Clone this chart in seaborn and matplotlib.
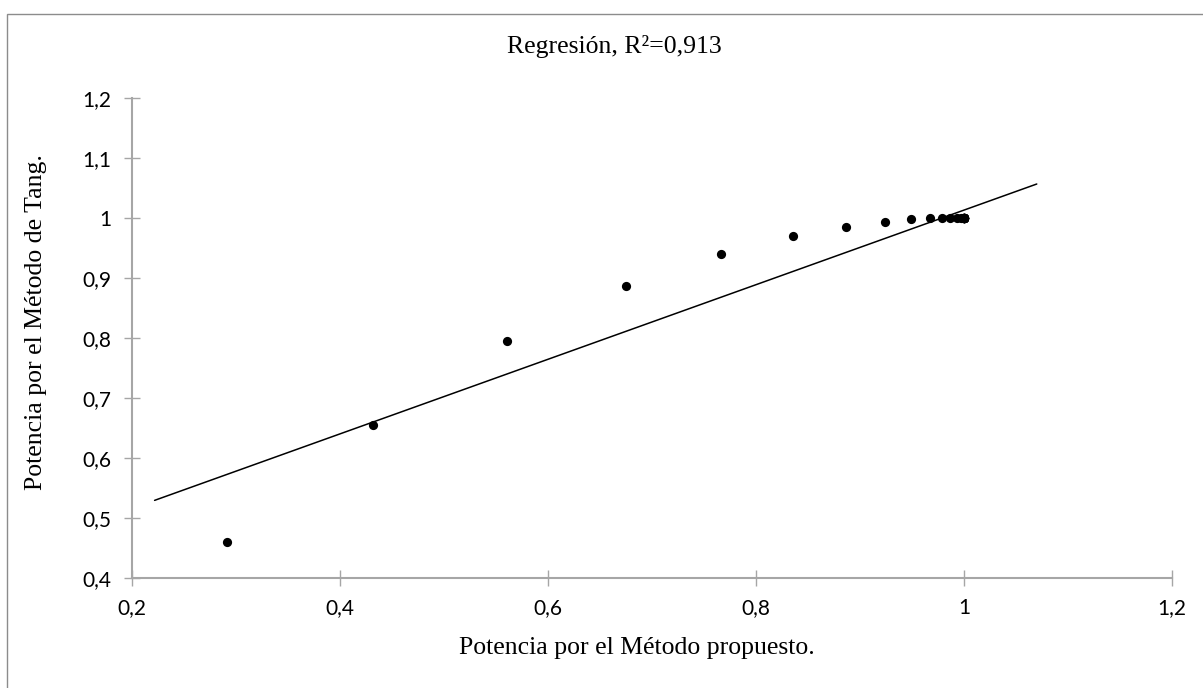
import numpy as np
import pandas as pd
import matplotlib
matplotlib.use("Agg")
import matplotlib.pyplot as plt
import seaborn as sns
from matplotlib.patches import Rectangle
from matplotlib.ticker import FuncFormatter

# data (many points overlap at (1, 1) in the saturated region)
x_propuesto = [0.292, 0.432, 0.561, 0.675, 0.766, 0.836, 0.887, 0.924, 0.949,
               0.967, 0.979, 0.987, 0.993, 0.997, 0.999, 1.000,
               1.000, 1.000, 1.000, 1.000, 1.000, 1.000, 1.000, 1.000,
               1.000, 1.000, 1.000, 1.000, 1.000, 1.000, 1.000]
y_tang = [0.459, 0.654, 0.795, 0.886, 0.940, 0.970, 0.985, 0.993, 0.997,
          0.999, 1.000, 1.000, 1.000, 1.000, 1.000, 1.000,
          1.000, 1.000, 1.000, 1.000, 1.000, 1.000, 1.000, 1.000,
          1.000, 1.000, 1.000, 1.000, 1.000, 1.000, 1.000]
title_text = "Regresión, R²=0,913"
xlabel_text = "Potencia por el Método propuesto."
ylabel_text = "Potencia por el Método de Tang."
xticks = [0.2, 0.4, 0.6, 0.8, 1.0, 1.2]
yticks = [0.4, 0.5, 0.6, 0.7, 0.8, 0.9, 1.0, 1.1, 1.2]
forecast = 0.07  # trendline extension backward / forward

df = pd.DataFrame({"x": x_propuesto, "y": y_tang})

sns.set_theme(style="white")
plt.rcParams["font.family"] = ["Lato", "DejaVu Sans"]

W, H = 1203, 688
fig = plt.figure(figsize=(W / 100, H / 100), dpi=100)
ax = fig.add_axes([131.7 / W, 1 - 577.7 / H, (1172 - 131.7) / W, (577.7 - 97.7) / H])

# outer chart border (top and left visible)
fig.patches.append(Rectangle((7 / W, -0.1), 1.2, 1 - 14 / H + 0.1, transform=fig.transFigure,
                             fill=False, edgecolor="#8c8c8c", linewidth=1.0, zorder=0))

# trendline (least squares), extended by the forecast on both sides
slope, intercept = np.polyfit(df["x"], df["y"], 1)
xl = np.array([df["x"].min() - forecast, df["x"].max() + forecast])
sns.lineplot(x=xl, y=slope * xl + intercept, ax=ax, color="black", linewidth=1.1, zorder=2)

sns.scatterplot(data=df, x="x", y="y", ax=ax, color="black", s=44, edgecolor="black",
                linewidth=0, zorder=3)

ax.set_xlim(0.2, 1.2)
ax.set_ylim(0.4, 1.2)
ax.set_xticks(xticks)
ax.set_yticks(yticks)
fmt = FuncFormatter(lambda v, p: ("%g" % round(v, 2)).replace(".", ","))
ax.xaxis.set_major_formatter(fmt)
ax.yaxis.set_major_formatter(fmt)
ax.set_xlabel("")
ax.set_ylabel("")

for side in ["top", "right"]:
    ax.spines[side].set_visible(False)
for side in ["left", "bottom"]:
    ax.spines[side].set_color("#a6a6a6")
    ax.spines[side].set_linewidth(1.5)
ax.tick_params(axis="both", which="major", direction="inout", length=11, width=1.0,
               color="#a6a6a6", labelsize=15, labelcolor="black", pad=9,
               bottom=True, left=True)
ax.patch.set_alpha(0)

serif = ["Liberation Serif", "DejaVu Serif"]
fig.text(614 / W, 1 - 47 / H, title_text, ha="center", va="center", fontsize=18.5,
         family=serif, color="black")
fig.text(637 / W, 1 - 648 / H, xlabel_text, ha="center", va="center", fontsize=18.5,
         family=serif, color="black")
fig.text(36 / W, 1 - 322 / H, ylabel_text, ha="center", va="center", fontsize=18.5,
         family=serif, color="black", rotation=90)

fig.savefig("out.png", dpi=100)
